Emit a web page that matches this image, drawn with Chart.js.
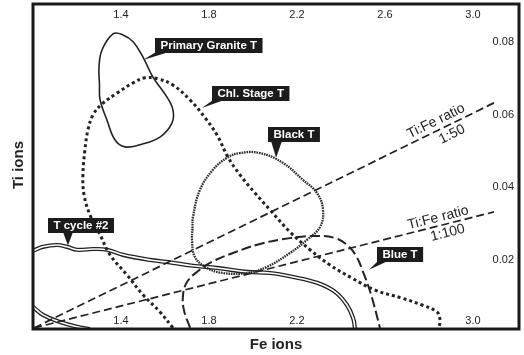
<!DOCTYPE html>
<html><head><meta charset="utf-8">
<script src="https://cdn.jsdelivr.net/npm/chart.js@4.4.0/dist/chart.umd.min.js"></script>
<style>html,body{margin:0;padding:0;background:#fff;overflow:hidden}</style>
</head><body>
<canvas id="c" width="524" height="355"></canvas>
<script>
// ---- tick labels ----
const xTicksTop = [1.4, 1.8, 2.2, 2.6, 3.0];
const xTicksBottom = [1.4, 1.8, 2.2, 3.0];
const yTicks = [0.08, 0.06, 0.04, 0.02];

// ---- fields (Fe ions, Ti ions) ----
const graniteFe = [1.302,1.305,1.336,1.373,1.418,1.486,1.577,1.632,1.636,1.609,1.545,1.500,1.455,1.409,1.364,1.314,1.300,1.302];
const graniteTi = [0.0685,0.0640,0.0585,0.0530,0.0511,0.0517,0.0538,0.0577,0.0613,0.0648,0.0703,0.0758,0.0800,0.0819,0.0822,0.0778,0.0731,0.0685];

const chlFe = [1.636,1.577,1.500,1.427,1.350,1.305,1.259,1.232,1.227,1.236,1.250,1.273,1.314,1.382,1.455,1.509,1.568,1.636,1.714,1.782,1.836,1.886,1.941,2.009,2.077,2.168,2.259,2.350,2.450,2.555,2.677,2.768,2.836,2.850,2.845];
const chlTi = [0.0013,0.0057,0.0104,0.0159,0.0214,0.0269,0.0324,0.0379,0.0434,0.0503,0.0558,0.0599,0.0629,0.0659,0.0687,0.0701,0.0698,0.0681,0.0640,0.0591,0.0544,0.0483,0.0434,0.0384,0.0338,0.0277,0.0228,0.0186,0.0150,0.0117,0.0095,0.0076,0.0057,0.0035,0.0013];

const blackFe = [1.725,1.727,1.759,1.818,1.882,1.941,2.032,2.136,2.227,2.291,2.318,2.305,2.245,2.168,2.064,1.973,1.864,1.791,1.736,1.723,1.725];
const blackTi = [0.0287,0.0318,0.0393,0.0448,0.0481,0.0494,0.0494,0.0467,0.0420,0.0384,0.0338,0.0291,0.0255,0.0219,0.0181,0.0164,0.0164,0.0178,0.0208,0.0255,0.0287];

const blueFe = [1.714,1.686,1.682,1.700,1.745,1.814,1.909,2.032,2.168,2.291,2.373,2.432,2.473,2.500,2.527,2.550,2.577];
const blueTi = [0.0013,0.0062,0.0104,0.0139,0.0167,0.0195,0.0219,0.0244,0.0260,0.0266,0.0260,0.0239,0.0206,0.0167,0.0123,0.0076,0.0013];

const cycleFe = [1.000,1.045,1.109,1.155,1.200,1.273,1.336,1.409,1.532,1.636,1.727,1.836,1.973,2.077,2.182,2.291,2.373,2.427,2.455,2.464];
const cycleTi = [0.0225,0.0236,0.0241,0.0236,0.0228,0.0230,0.0228,0.0214,0.0200,0.0192,0.0184,0.0178,0.0167,0.0164,0.0153,0.0137,0.0112,0.0076,0.0040,0.0010];
const cycleCornerFe = [1.000,1.045,1.123,1.200,1.259];
const cycleCornerTi = [0.0071,0.0049,0.0029,0.0016,0.0010];

// ---- Ti:Fe ratio lines ----
const ratio50Fe = [1.005, 3.095];
const ratio50Ti = [0.0013, 0.0632];
const ratio100Fe = [1.005, 3.095];
const ratio100Ti = [0.0013, 0.0332];

// ---- boxed labels: text, centre (Fe,Ti), pointer tip (Fe,Ti) ----
const labelTexts = ['Primary Granite T', 'Chl. Stage T', 'Black T', 'Blue T', 'T cycle #2'];
const labelFe = [1.800, 1.991, 2.186, 2.668, 1.218];
const labelTi = [0.0791, 0.0659, 0.0544, 0.0214, 0.0296];
const tipFe = [1.500, 1.768, 2.105, 2.527, 1.159];
const tipTi = [0.0750, 0.0618, 0.0481, 0.0173, 0.0240];

const pts = (xs, ys) => xs.map((x, i) => ({x, y: ys[i]}));
const INK = '#222';

const ds = (data, opts) => Object.assign({data, showLine: true, pointRadius: 0, borderColor: INK, borderWidth: 1.6, fill: false, tension: 0.4}, opts);

const datasets = [
  ds(pts(graniteFe, graniteTi), {order: 1}),
  ds(pts(chlFe, chlTi), {order: 2, borderWidth: 3, borderDash: [3, 3]}),
  ds(pts(blackFe, blackTi), {order: 2, borderWidth: 2.3, borderDash: [1.6, 0.9], borderColor: '#2a2a2a'}),
  ds(pts(blueFe, blueTi), {order: 2, borderWidth: 2, borderDash: [10, 4]}),
  ds(pts(ratio50Fe, ratio50Ti), {order: 3, borderWidth: 1.7, borderDash: [8, 4], tension: 0}),
  ds(pts(ratio100Fe, ratio100Ti), {order: 3, borderWidth: 1.7, borderDash: [8, 4], tension: 0}),
  ds(pts(cycleFe, cycleTi), {order: 5, borderColor: '#fff', borderWidth: 1.6}),
  ds(pts(cycleFe, cycleTi), {order: 6, borderWidth: 4.2}),
  ds(pts(cycleCornerFe, cycleCornerTi), {order: 5, borderColor: '#fff', borderWidth: 1.6}),
  ds(pts(cycleCornerFe, cycleCornerTi), {order: 6, borderWidth: 4.2}),
];

const FONT = '"Liberation Sans", Arial, Helvetica, sans-serif';

const decor = {
  id: 'decor',
  afterDatasetsDraw(chart) {
    const {ctx, chartArea: a, scales: {x, y}} = chart;
    ctx.save();
    // frame
    ctx.strokeStyle = '#1a1a1a';
    ctx.lineWidth = 3;
    ctx.strokeRect(a.left, a.top, a.right - a.left, a.bottom - a.top);

    // tick labels
    ctx.fillStyle = '#222';
    ctx.font = '11px ' + FONT;
    ctx.textAlign = 'center';
    ctx.textBaseline = 'middle';
    xTicksTop.forEach(v => ctx.fillText(v.toFixed(1), x.getPixelForValue(v), a.top + 11));
    xTicksBottom.forEach(v => ctx.fillText(v.toFixed(1), x.getPixelForValue(v), a.bottom - 8));
    ctx.textAlign = 'right';
    yTicks.forEach(v => ctx.fillText(v.toFixed(2), a.right - 5, y.getPixelForValue(v)));

    // axis titles
    ctx.font = 'bold 15px ' + FONT;
    ctx.textAlign = 'center';
    ctx.fillText('Fe ions', (a.left + a.right) / 2, 345);
    ctx.save();
    ctx.translate(19, 165);
    ctx.rotate(-Math.PI / 2);
    ctx.fillText('Ti ions', 0, 0);
    ctx.restore();

    // ratio labels
    const ratioText = (fe, ti, atFe, off, txt) => {
      const x0 = x.getPixelForValue(fe[0]), y0 = y.getPixelForValue(ti[0]);
      const x1 = x.getPixelForValue(fe[1]), y1 = y.getPixelForValue(ti[1]);
      const ang = Math.atan2(y1 - y0, x1 - x0);
      const t = (atFe - fe[0]) / (fe[1] - fe[0]);
      const px = x0 + (x1 - x0) * t, py = y0 + (y1 - y0) * t;
      ctx.save();
      ctx.translate(px, py);
      ctx.rotate(ang);
      ctx.font = '14px ' + FONT;
      ctx.textAlign = 'center';
      ctx.textBaseline = 'middle';
      ctx.fillStyle = '#222';
      ctx.fillText(txt, 0, off);
      ctx.restore();
    };
    ratioText(ratio50Fe, ratio50Ti, 2.85, -9, 'Ti:Fe ratio');
    ratioText(ratio50Fe, ratio50Ti, 2.885, 10, '1:50');
    ratioText(ratio100Fe, ratio100Ti, 2.85, -8, 'Ti:Fe ratio');
    ratioText(ratio100Fe, ratio100Ti, 2.875, 9, '1:100');

    // boxed labels
    const baseOffsets = [[1, 14], [1, 12], [3, 14], [1, 11], [15, 25]];
    labelTexts.forEach((txt, i) => {
      ctx.font = 'bold 11.5px ' + FONT;
      const w = ctx.measureText(txt).width + 11, h = 15;
      const cx = x.getPixelForValue(labelFe[i]), cy = y.getPixelForValue(labelTi[i]);
      const l = Math.round(cx - w / 2), t = Math.round(cy - h / 2);
      ctx.fillStyle = '#1c1c1c';
      ctx.fillRect(l, t, w, h);
      ctx.beginPath();
      ctx.moveTo(l + baseOffsets[i][0], t + h - 1);
      ctx.lineTo(l + baseOffsets[i][1], t + h - 1);
      ctx.lineTo(x.getPixelForValue(tipFe[i]), y.getPixelForValue(tipTi[i]));
      ctx.closePath();
      ctx.fill();
      ctx.fillStyle = '#fff';
      ctx.textAlign = 'center';
      ctx.textBaseline = 'middle';
      ctx.fillText(txt, l + w / 2, t + h / 2 + 0.5);
    });
    ctx.restore();
  }
};

new Chart(document.getElementById('c'), {
  type: 'scatter',
  data: {datasets},
  options: {
    responsive: false,
    devicePixelRatio: 1,
    animation: false,
    layout: {padding: {left: 33, right: 5, top: 4, bottom: 26}},
    plugins: {legend: {display: false}, tooltip: {enabled: false}},
    scales: {
      x: {type: 'linear', min: 1.0, max: 3.209, display: false},
      y: {type: 'linear', min: 0.001, max: 0.0904, display: false}
    }
  },
  plugins: [decor]
});
</script>
</body></html>
